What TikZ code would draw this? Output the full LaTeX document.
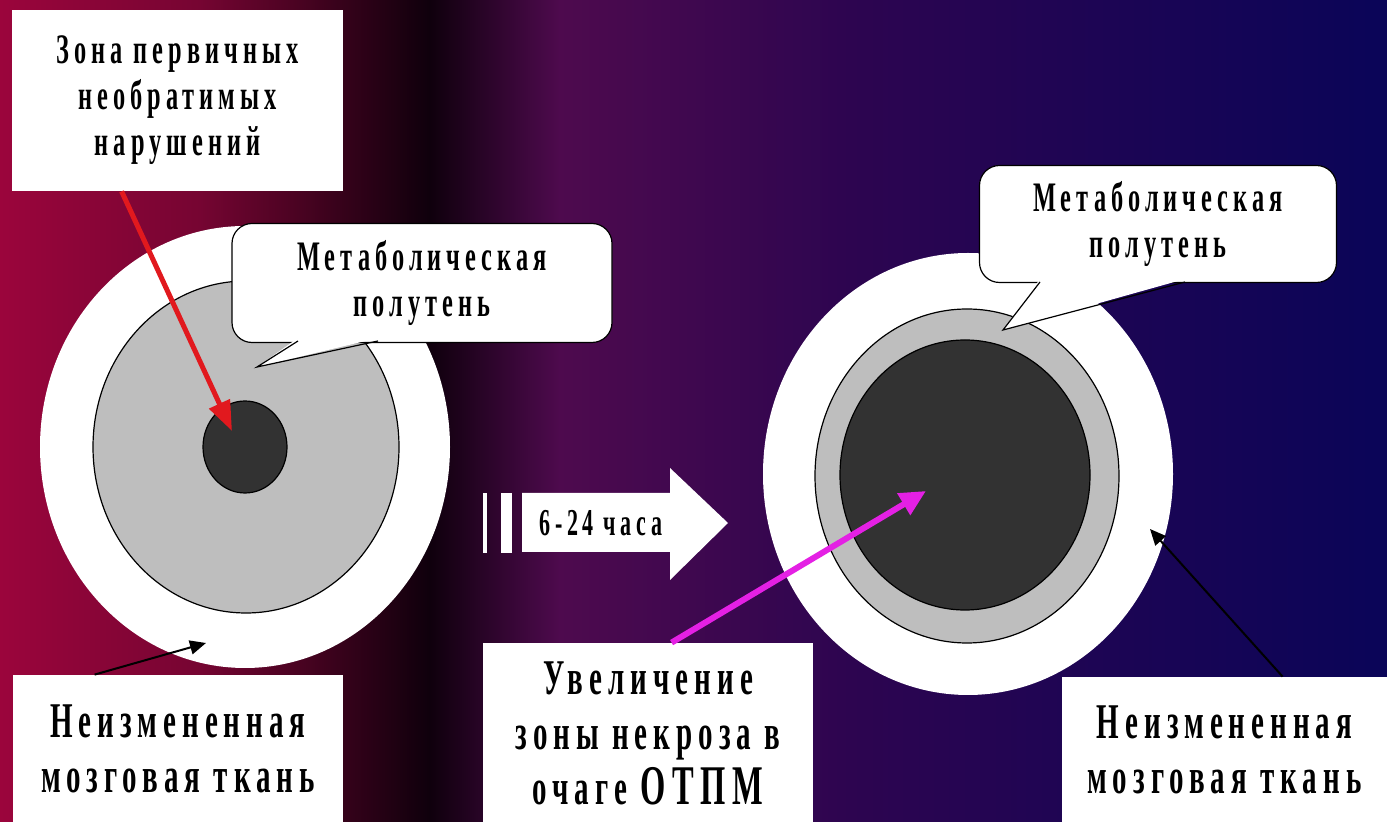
\documentclass[tikz,border=0pt]{standalone}
\usepackage{fontspec}
\usepackage{tikz}
\usepackage{xcolor}
\usetikzlibrary{arrows.meta,positioning,calc}
\newfontfamily\slabfont[FakeStretch=0.58, LetterSpace=12]{Liberation Serif}
\definecolor{bgA}{RGB}{155,5,60}
\definecolor{bgB}{RGB}{118,5,50}
\definecolor{bgC}{RGB}{15,0,12}
\definecolor{bgD}{RGB}{78,10,78}
\definecolor{bgE}{RGB}{45,5,80}
\definecolor{bgF}{RGB}{10,5,88}
\definecolor{ringgray}{RGB}{190,190,190}
\definecolor{coregray}{RGB}{50,50,50}
\definecolor{arrred}{RGB}{225,25,30}
\definecolor{arrmag}{RGB}{228,32,228}

\begin{document}
\begin{tikzpicture}[x=0.5pt,y=-0.5pt,
  txtbox/.style={fill=white, inner sep=0pt, align=center},
  bigtxt/.style={font=\slabfont\bfseries\fontsize{25}{27.5}\selectfont},
  smalltxt/.style={font=\slabfont\bfseries\fontsize{21}{23}\selectfont},
  ring/.style={fill=ringgray, draw=black, line width=0.6pt},
  core/.style={fill=coregray, draw=black, line width=0.6pt},
  bubble/.style={txtbox, draw=black, line width=0.6pt, rounded corners=10pt},
  redarr/.style={arrred, line width=2.5pt, -{Triangle[length=15pt,width=11pt]}},
  magarr/.style={arrmag, line width=3pt, -{Triangle[length=13pt,width=12pt]}},
  blkarr/.style={black, line width=1pt, -{Triangle[length=8pt,width=7pt]}}
]
\useasboundingbox (0,0) rectangle (1387,822);
\clip (0,0) rectangle (1387,822);
% background
\shade[left color=bgA, right color=bgB] (0,0) rectangle (200,822);
\shade[left color=bgB, right color=bgC] (199,0) rectangle (430,822);
\shade[left color=bgC, right color=bgD] (429,0) rectangle (560,822);
\shade[left color=bgD, right color=bgE] (559,0) rectangle (850,822);
\shade[left color=bgE, right color=bgF] (849,0) rectangle (1387,822);

% left brain: small necrosis core
\fill[white] (245,447) ellipse [x radius=205, y radius=221];
\draw[ring] (246,447) ellipse [x radius=153, y radius=166];
\draw[core] (245,447) ellipse [x radius=42, y radius=46];

% right brain: grown core
\fill[white] (968,474) ellipse [x radius=205, y radius=221];
\draw[ring] (967,476) ellipse [x radius=152, y radius=167];
\draw[core] (965,475) ellipse [x radius=125, y radius=135];

% callouts
\node[bubble, smalltxt, minimum width=190pt, minimum height=59.5pt] (penL) at (422,283) {Метаболическая\\полутень};
\fill[white] (298,338) -- (257,367) -- (378,338) -- cycle;
\draw[line width=0.6pt] (298,341) -- (257,367) -- (378,341);

\node[bubble, smalltxt, minimum width=178.5pt, minimum height=58.5pt] (penR) at (1158,224) {Метаболическая\\полутень};
\fill[white] (1040,279) -- (1003,330) -- (1185,279) -- cycle;
\draw[line width=0.6pt] (1040,282) -- (1003,330) -- (1185,282);

% time arrow
\fill[white] (483,493) rectangle (487,553);
\fill[white] (501,493) rectangle (512,553);
\fill[white] (522,493) -- (670,493) -- (670,468) -- (728,523) -- (670,580) -- (670,552) -- (522,552) -- cycle;
\node[font=\slabfont\bfseries\fontsize{19}{21}\selectfont, inner sep=0pt] (time) at (601,523) {6-24 часа};

% label boxes
\node[txtbox, smalltxt, minimum width=165.5pt, minimum height=90.5pt] (zona) at (177.5,100.5) {Зона первичных\\необратимых\\нарушений};
\node[txtbox, bigtxt, minimum width=165pt, minimum height=74pt] (tissueL) at (178,749) {Неизмененная\\мозговая ткань};
\node[txtbox, bigtxt, minimum width=165pt, minimum height=90pt] (growth) at (648,733) {Увеличение\\зоны некроза в\\очаге {\fontsize{28}{27.5}\selectfont ОТПМ}};
\node[txtbox, bigtxt, minimum width=162.5pt, minimum height=73pt] (tissueR) at (1224.5,750) {Неизмененная\\мозговая ткань};

% pointers
\coordinate (tipL) at (232,431);
\coordinate (tipR) at (926,491);
\coordinate (edgeL) at (206,643);
\coordinate (edgeR) at (1150,529);
\draw[redarr] ([xshift=55pt]zona.south west) -- (tipL);
\draw[magarr] ([xshift=94.5pt]growth.north west) -- (tipR);
\draw[blkarr] ([xshift=41pt]tissueL.north west) -- (edgeL);
\draw[blkarr] ([xshift=110.5pt]tissueR.north west) -- (edgeR);
\end{tikzpicture}
\end{document}
